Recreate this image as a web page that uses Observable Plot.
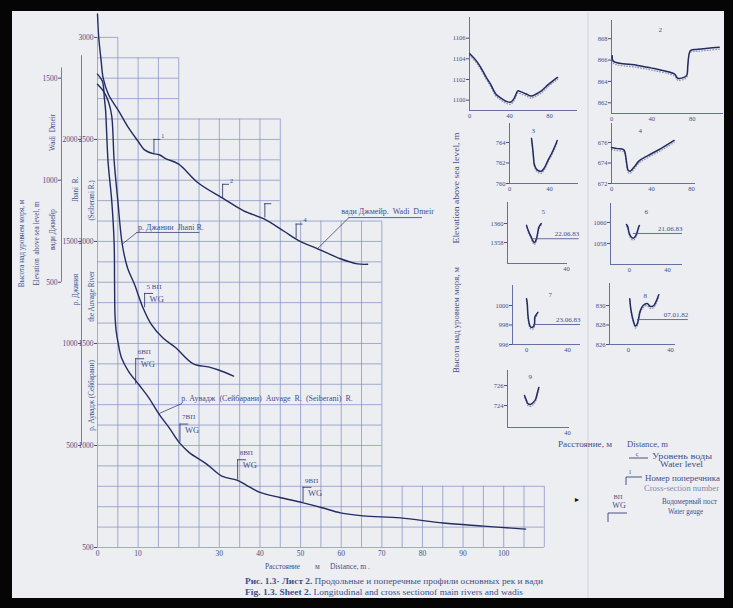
<!DOCTYPE html>
<html>
<head>
<meta charset="utf-8">
<script src="https://cdn.jsdelivr.net/npm/d3@7"></script>
<script src="https://cdn.jsdelivr.net/npm/@observablehq/plot@0.6"></script>
<style>
  html, body { margin: 0; padding: 0; background: #050505; }
  #page { position: relative; width: 733px; height: 608px; background: #050505; overflow: hidden; }
  #sheet { position: absolute; left: 12px; top: 11px; width: 712px; height: 587px; background: #eceef2; }
  #page svg { position: absolute; }
</style>
</head>
<body>
<div id="page"><div id="sheet"></div></div>
<script>
// ---------- Longitudinal profiles (distance from source, km; elevation on each river's own axis, m)
const auvageKm   = [0, 1.2, 1.7, 2.0, 2.6, 3.5, 4.1, 4.2, 4.3, 4.6, 5.1, 5.9, 7.6, 10.1, 12.6, 15.1, 17.7, 20.1, 22.6, 26.8, 30.6, 34.3, 36.7, 40, 44.9, 50.4, 55.3, 59.8, 65.4, 74.6, 85.1, 95, 105.4];
const auvageElev = [2820, 2785, 2700, 2640, 2390, 2200, 1990, 1805, 1645, 1560, 1500, 1430, 1365, 1300, 1235, 1155, 1085, 1015, 965, 910, 850, 830, 805, 770, 745, 720, 695, 670, 655, 645, 620, 605, 590];

const jhaniKm   = [0, 1.5, 2.7, 3.5, 4.1, 5.0, 6.1, 7.4, 9.1, 11.2, 13.2, 16.2, 19.2, 23.6, 27.3, 29.8, 33.5];
const jhaniElev = [2270, 2235, 2185, 2115, 1895, 1700, 1485, 1370, 1290, 1175, 1095, 1025, 980, 900, 885, 870, 840];

const wadiKm   = [0, 0.3, 0.9, 1.4, 2.7, 5.2, 7.7, 10.2, 11.5, 13.7, 15.2, 16.9, 19.9, 24.9, 31, 36, 41, 45.9, 49.9, 54.1, 59.8, 64, 66.5];
const wadiElev = [1815, 1700, 1585, 1500, 1420, 1340, 1255, 1185, 1150, 1130, 1125, 1105, 1080, 985, 910, 850, 810, 750, 700, 665, 615, 590, 588];

// Offsets that put the Jhani and Wadi Dmeir axes on the shared (Auvage) vertical scale
const JHANI_SHIFT = 500;
const WADI_SHIFT = 1300;

// Axis ticks
const distTicks   = [0, 10, 30, 40, 50, 60, 70, 80, 90, 100];
const auvageTicks = [500, 1000, 1500, 2000, 2500, 3000];
const jhaniTicks  = [500, 1000, 1500, 2000];
const wadiTicks   = [500, 1000, 1500];

// Cross-section numbers on Wadi Dmeir (km, m on the Wadi scale)
const sectionNo   = ["1", "2", "", "4"];
const sectionKm   = [13.9, 30.8, 41.2, 48.9];
const sectionElev = [1130, 910, 815, 715];

// Water gauges
const gaugeNo    = ["5 ВП", "6ВП", "7ВП", "8ВП", "9ВП"];
const gaugeRiver = ["Jhani", "Auvage", "Auvage", "Auvage", "Auvage"];
const gaugeKm    = [11.6, 9.4, 20.3, 34.5, 50.6];
const gaugeElev  = [1175, 1300, 1015, 830, 720];

// ---------- Cross sections (distance across, m; elevation, m)
const sec1Dist = [0.3, 6.1, 11.1, 16.2, 21.3, 26.3, 31.4, 36.5, 40.9, 44.2, 46.6, 48.3, 51.6, 56.7, 61.7, 66.8, 71.9, 78.6, 83.7, 88.1];
const sec1Elev = [1104.5, 1103.9, 1103.2, 1102.3, 1101.5, 1100.6, 1100.2, 1099.9, 1099.8, 1100.1, 1100.6, 1100.9, 1100.8, 1100.6, 1100.4, 1100.6, 1100.9, 1101.5, 1101.9, 1102.2];
const sec2Dist = [0.7, 1.7, 25.7, 42.3, 62.3, 65.7, 72.3, 74.7, 75.7, 78.3, 85.7, 95.7, 106.7];
const sec2Elev = [866.4, 865.9, 865.5, 865.2, 864.7, 864.3, 864.4, 864.6, 865.6, 866.9, 867.0, 867.1, 867.2];
const sec3Dist = [22, 23, 24, 24.7, 27, 30.3, 32, 35.3, 38.7, 42, 45.3, 47.7];
const sec3Elev = [764.4, 763.6, 762.6, 761.9, 761.4, 761.2, 761.2, 761.6, 762.3, 762.9, 763.6, 764.2];
const sec4Dist = [0, 6, 12, 13.3, 15.3, 16.6, 18.6, 22.6, 27.6, 36, 49.3, 62.6];
const sec4Elev = [675.5, 675.4, 675.3, 675.1, 673.9, 673.3, 673.2, 673.6, 674.2, 674.7, 675.4, 676.2];
const sec5Dist = [-1, 1.4, 3.8, 5.4, 7.2, 9.2, 10.6, 11.6, 14.1];
const sec5Elev = [1359.8, 1359.1, 1358.6, 1358.2, 1358.0, 1358.4, 1359.1, 1359.6, 1360.0];
const sec6Dist = [-3.2, -1.8, -0.7, 1.1, 3.9, 6.3, 8.1, 9.8, 10.5];
const sec6Elev = [1059.8, 1059.6, 1059.1, 1058.7, 1058.5, 1058.7, 1059.1, 1059.6, 1059.7];
const sec7Dist = [0, 0.7, 1.3, 2.3, 3.9, 6.5, 7.8, 8.1, 9.8, 11.1];
const sec7Elev = [1000.7, 1000.2, 999.1, 998.3, 997.8, 997.8, 998.1, 998.8, 999.1, 999.3];
const sec8Dist = [1.3, 2.5, 4.5, 6.7, 8.3, 11.4, 14, 17.8, 20.9, 24.1, 26.7, 28.9];
const sec8Elev = [830.7, 829.5, 828.5, 827.9, 828.1, 829.5, 830.0, 830.2, 829.9, 830.0, 830.5, 831.1];
const sec9Dist = [-3, -1, 0.3, 3, 5.7, 8, 9.7, 11.3];
const sec9Elev = [725.0, 724.5, 724.2, 724.1, 724.3, 724.6, 725.2, 725.8];

// Measured water levels in sections 5-8
const waterLevel = [1358.4, 1058.95, 998.05, 828.56];
const waterDate  = ["22.06.83", "21.06.83", "23.06.83", "07.01.82"];

// ---------- Styling
const INK  = "#232b62";
const GRID = "#8791c4";
const TEXT = "#434e8b";
const SERIF = "'Liberation Serif', 'DejaVu Serif', serif";
const page = document.getElementById("page");

function place(svg, left, top) {
  svg.style.left = left + "px";
  svg.style.top = top + "px";
  page.appendChild(svg);
}

// ---------- Sheet grid: stepped blocks of 5 km x 100 m cells
const gridStepEnd = [5, 20, 45, 70, 110];
const gridStepTop = [3000, 2900, 2600, 2100, 800];
const vLines = d3.range(0, 111, 5);
const hLines = d3.range(500, 3001, 100);
const vTop = x => gridStepTop[gridStepEnd.findIndex(e => e >= x)];
const hRight = y => d3.max(gridStepEnd.filter((e, i) => gridStepTop[i] >= y));

// ---------- Annotation layout
const SECTION_STEM = 70, SECTION_ARM = 1.7;
const gaugeStem = [70, 125, 90, 100, 75];
const GAUGE_ARM = 2.2;
const secIdx = d3.range(sectionNo.length);
const secBase = i => sectionElev[i] + WADI_SHIFT;
const secTop = i => secBase(i) + SECTION_STEM;
const gIdx = d3.range(gaugeNo.length);
const gBase = i => gaugeElev[i] + (gaugeRiver[i] === "Jhani" ? JHANI_SHIFT : 0);
const gTop = i => gBase(i) + gaugeStem[i];

// Rotated axis titles, placed left of the frame
const leftLabels = [
  {t: "Высота над уровнем моря, м", y: 1990, dx: -76},
  {t: "Elevation  above sea level, m", y: 1990, dx: -61},
  {t: "Wadi  Dmeir", y: 2534, dx: -45},
  {t: "вади Джмейр", y: 2058, dx: -45},
  {t: "Jhani  R.", y: 2255, dx: -22},
  {t: "р. Джания", y: 1764, dx: -22},
  {t: "(Seiberani R.)", y: 2201, dx: -6},
  {t: "the Auvage River", y: 1730, dx: -6},
  {t: "р. Аувадж (Сейбарани)", y: 1245, dx: -6}
];

const main = Plot.plot({
  width: 560, height: 565,
  marginLeft: 97, marginRight: 4, marginTop: 12, marginBottom: 18,
  x: {domain: [0, 113]},
  y: {domain: [500, 3122]},
  style: {background: "transparent", fontFamily: SERIF, fontSize: "7.5px", color: TEXT, overflow: "visible"},
  marks: [
    Plot.ruleX(vLines, {x: d => d, y1: 500, y2: vTop, stroke: GRID, strokeWidth: 0.75}),
    Plot.ruleY(hLines, {y: d => d, x1: 0, x2: hRight, stroke: GRID, strokeWidth: 0.75}),

    Plot.axisX(distTicks, {tickSize: 0, tickPadding: 3, tickFormat: d => String(d), label: null, fontSize: 7.5}),
    Plot.axisY(auvageTicks, {tickSize: 3, tickPadding: 1, tickFormat: d => String(d), label: null, fontSize: 7.5}),
    Plot.axisY(jhaniTicks.map(v => v + JHANI_SHIFT), {dx: -16, tickSize: 3, tickPadding: 1, tickFormat: d => String(d - JHANI_SHIFT), label: null, fontSize: 7.5}),
    Plot.axisY(wadiTicks.map(v => v + WADI_SHIFT), {dx: -36, tickSize: 3, tickPadding: 1, tickFormat: d => String(d - WADI_SHIFT), label: null, fontSize: 7.5}),
    Plot.ruleX([0], {y1: 1000, y2: 2910, dx: -16, stroke: TEXT, strokeWidth: 0.7}),
    Plot.ruleX([0], {y1: 1800, y2: 2850, dx: -36, stroke: TEXT, strokeWidth: 0.7}),
    ...leftLabels.map(l => Plot.text([l.t], {frameAnchor: "left", y: l.y, dx: l.dx, text: d => d, rotate: -90, textAnchor: "middle", fontSize: 7.2, fill: TEXT})),

    // river profiles
    Plot.line(wadiKm, {x: wadiKm, y: wadiElev.map(v => v + WADI_SHIFT), stroke: INK, strokeWidth: 1.4, curve: "catmull-rom"}),
    Plot.line(jhaniKm, {x: jhaniKm, y: jhaniElev.map(v => v + JHANI_SHIFT), stroke: INK, strokeWidth: 1.4, curve: "catmull-rom"}),
    Plot.line(auvageKm, {x: auvageKm, y: auvageElev, stroke: INK, strokeWidth: 1.4, curve: "catmull-rom"}),

    // cross-section markers
    Plot.ruleX(secIdx, {x: i => sectionKm[i], y1: secBase, y2: secTop, stroke: INK, strokeWidth: 0.8}),
    Plot.ruleY(secIdx, {y: secTop, x1: i => sectionKm[i], x2: i => sectionKm[i] + SECTION_ARM, stroke: INK, strokeWidth: 0.8}),
    Plot.text(secIdx, {x: i => sectionKm[i] + SECTION_ARM, y: secTop, text: i => sectionNo[i], dx: 2, dy: -4, fontSize: 7, fill: TEXT}),

    // water gauges
    Plot.ruleX(gIdx, {x: i => gaugeKm[i], y1: gBase, y2: gTop, stroke: INK, strokeWidth: 0.8}),
    Plot.ruleY(gIdx, {y: gTop, x1: i => gaugeKm[i], x2: i => gaugeKm[i] + GAUGE_ARM, stroke: INK, strokeWidth: 0.8}),
    Plot.text(gIdx, {x: i => gaugeKm[i], y: gTop, text: i => gaugeNo[i], dx: 2, dy: -7, textAnchor: "start", fontSize: 7, fill: TEXT}),
    Plot.text(gIdx, {x: i => gaugeKm[i], y: gTop, text: () => "WG", dx: 5, dy: 6, textAnchor: "start", fontSize: 8.5, fill: TEXT}),

    // river name call-outs
    Plot.link([0], {x1: 6.1, y1: 1987, x2: 9.7, y2: 2044, stroke: INK, strokeWidth: 0.7}),
    Plot.ruleY([2044], {x1: 9.7, x2: 25.2, stroke: INK, strokeWidth: 0.7}),
    Plot.text(["р. Джании  Jhani R."], {x: 10, y: 2044, dy: -5, textAnchor: "start", fontSize: 8, fill: TEXT}),
    Plot.link([0], {x1: 54.1, y1: 1963, x2: 61.9, y2: 2117, stroke: INK, strokeWidth: 0.7}),
    Plot.ruleY([2117], {x1: 61.9, x2: 80, stroke: INK, strokeWidth: 0.7}),
    Plot.text(["вади Джмейр.  Wadi  Dmeir"], {x: 60, y: 2117, dy: -6, textAnchor: "start", fontSize: 8, fill: TEXT}),
    Plot.link([0], {x1: 15.1, y1: 1156, x2: 20.8, y2: 1206, stroke: INK, strokeWidth: 0.7}),
    Plot.text(["р. Аувадж  (Сейбарани)  Auvage  R.  (Seiberani)  R."], {x: 20.6, y: 1206, dy: -5, textAnchor: "start", fontSize: 8, fill: TEXT})
  ]
});
place(main, 0, 0);

// ---------- Cross-section panels
const sectionDist = [sec1Dist, sec2Dist, sec3Dist, sec4Dist, sec5Dist, sec6Dist, sec7Dist, sec8Dist, sec9Dist];
const sectionElevs = [sec1Elev, sec2Elev, sec3Elev, sec4Elev, sec5Elev, sec6Elev, sec7Elev, sec8Elev, sec9Elev];
const panelLayout = [
  {frame: [469, 17, 577, 110], x: [0, 108], y: [1099.0, 1108.0], xt: [0, 40, 80], yt: [1100, 1102, 1104, 1106], no: "", at: [0, 0]},
  {frame: [611, 20, 723, 113], x: [0, 111], y: [861.0, 869.7], xt: [0, 40, 80], yt: [862, 864, 866, 868], no: "2", at: [47, 7]},
  {frame: [509, 123, 578, 183], x: [0, 69], y: [760, 765.85], xt: [0, 40], yt: [760, 762, 764], no: "3", at: [22, 5]},
  {frame: [611, 123, 695, 183], x: [0, 84], y: [672, 677.85], xt: [0, 40, 80], yt: [672, 674, 676], no: "4", at: [27, 5]},
  {frame: [507, 202, 567, 263], x: [-20.5, 41], y: [1355.8, 1362.2], xt: [40], yt: [1358, 1360], no: "5", at: [34, 7], w: 0, wx: [6, 53]},
  {frame: [610, 203, 682, 264], x: [-20, 55.8], y: [1056, 1061.8], xt: [0, 40], yt: [1058, 1060], no: "6", at: [34, 6], w: 1, wx: [4.2, 55.8]},
  {frame: [512, 285, 580, 344], x: [-13.7, 52.7], y: [996, 1002.05], xt: [0, 40], yt: [996, 998, 1000], no: "7", at: [36, 7], w: 2, wx: [6.8, 52.7]},
  {frame: [609, 283, 675, 344], x: [-18, 44.8], y: [826, 832.26], xt: [0, 40], yt: [826, 828, 830], no: "8", at: [34, 10], w: 3, wx: [8.6, 57]},
  {frame: [507, 370, 569, 427], x: [-20, 42], y: [721.8, 727.5], xt: [40], yt: [724, 726], no: "9", at: [21, 4]}
];

panelLayout.forEach((L, k) => {
  const [left, top, right, bottom] = L.frame;
  const mL = 26, mR = 34, mT = 12, mB = 13;
  const dist = sectionDist[k], elev = sectionElevs[k];
  const marks = [
    Plot.ruleX([L.x[0]], {stroke: TEXT, strokeWidth: 0.8}),
    Plot.ruleY([L.y[0]], {stroke: TEXT, strokeWidth: 0.8}),
    Plot.axisY(L.yt, {tickSize: 3, tickPadding: 1, tickFormat: d => String(d), label: null, fontSize: 6.5}),
    Plot.axisX(L.xt, {tickSize: 0, tickPadding: 3, tickFormat: d => String(d), label: null, fontSize: 6.5}),
    // ground hatching under the profile
    Plot.line(dist, {x: dist, y: elev, dy: 2, stroke: INK, strokeWidth: 1.3, strokeDasharray: "0.6 2.2", strokeOpacity: 0.45, curve: "catmull-rom"}),
    Plot.line(dist, {x: dist, y: elev, stroke: INK, strokeWidth: 1.5, curve: "catmull-rom"})
  ];
  if (L.no) marks.push(Plot.text([L.no], {frameAnchor: "top-left", dx: L.at[0], dy: L.at[1], fontSize: 7, fill: TEXT}));
  if (L.w !== undefined) {
    marks.push(Plot.ruleY([waterLevel[L.w]], {x1: L.wx[0], x2: L.wx[1], stroke: TEXT, strokeWidth: 0.8}));
    marks.push(Plot.text([waterDate[L.w]], {x: L.wx[1], y: waterLevel[L.w], dy: -5, textAnchor: "end", fontSize: 7, fill: TEXT}));
  }
  const svg = Plot.plot({
    width: right - left + mL + mR, height: bottom - top + mT + mB,
    marginLeft: mL, marginRight: mR, marginTop: mT, marginBottom: mB,
    x: {domain: L.x}, y: {domain: L.y},
    style: {background: "transparent", fontFamily: SERIF, fontSize: "6.5px", color: TEXT, overflow: "visible"},
    marks
  });
  place(svg, left - mL, top - mT);
});

// ---------- Titles, caption and key
const over = d3.select(page).append("svg")
  .attr("width", 733).attr("height", 608)
  .style("left", "0px").style("top", "0px")
  .attr("font-family", SERIF).attr("fill", TEXT);

over.append("line").attr("x1", 588).attr("x2", 588).attr("y1", 12).attr("y2", 598)
  .attr("stroke", "#d2d5de").attr("stroke-width", 1);

function txt(s, x, y, o = {}) {
  const t = over.append("text").attr("font-size", o.size || 8).text(s);
  if (o.rotate) {
    t.attr("transform", `translate(${x},${y}) rotate(-90)`).attr("text-anchor", "middle").attr("dominant-baseline", "central");
  } else {
    t.attr("x", x).attr("y", y).attr("text-anchor", o.anchor || "start");
  }
  if (o.len) t.attr("textLength", o.len).attr("lengthAdjust", "spacingAndGlyphs");
  if (o.weight) t.attr("font-weight", o.weight);
  if (o.fill) t.attr("fill", o.fill);
  return t;
}
function seg(x1, y1, x2, y2) {
  over.append("line").attr("x1", x1).attr("y1", y1).attr("x2", x2).attr("y2", y2)
    .attr("stroke", INK).attr("stroke-width", 0.8);
}

// distance axis title and figure caption
txt("Расстояние", 265, 569, {len: 35, size: 7.5});
txt("м", 315, 569, {size: 7.5});
txt("Distance,  m  .", 330, 569, {len: 40, size: 7.5});
const c1 = txt("", 245, 584, {len: 298, size: 8.5});
c1.append("tspan").attr("font-weight", 700).text("Рис. 1.3· Лист 2. ");
c1.append("tspan").text("Продольные и поперечные профили основных рек и вади");
const c2 = txt("", 245, 595, {len: 278, size: 8.5});
c2.append("tspan").attr("font-weight", 700).text("Fig. 1.3. Sheet 2. ");
c2.append("tspan").text("Longitudinal and cross sectionof main rivers and wadis");

// cross-section axis titles
txt("Высота над уровнем моря, м", 456, 320, {rotate: true, len: 106, size: 7.5});
txt("Elevation  above sea level, m", 456, 188, {rotate: true, len: 111, size: 7.5});
txt("Расстояние, м", 558, 447, {len: 54, size: 7.5});
txt("Distance,  m", 627, 447, {len: 41, size: 7.5});

// key
seg(629, 458, 648, 458);
txt("ς", 637, 456, {size: 6, anchor: "middle"});
txt("Уровень воды", 652, 459, {len: 60, size: 7.5});
txt("Water level", 660, 467, {len: 43, size: 7.5});
seg(626, 477, 642, 477);
seg(626, 477, 626, 485);
txt("1", 630, 474, {size: 6, anchor: "middle"});
txt("Номер поперечника", 645, 481, {len: 75, size: 7.5});
txt("Cross-section number", 644, 491, {len: 75, size: 7.5, fill: "#7d86b4"});
txt("ВП", 618, 499, {size: 6.5, anchor: "middle"});
txt("WG", 619, 508, {size: 8, anchor: "middle"});
seg(608, 513, 627, 513);
seg(608, 513, 608, 522);
txt("Водомерный пост", 662, 504, {len: 55, size: 7.5});
txt("Water gauge", 668, 514, {len: 35, size: 7.5});
txt("►", 577, 502, {size: 7, fill: "#111", anchor: "middle"});
</script>
</body>
</html>
